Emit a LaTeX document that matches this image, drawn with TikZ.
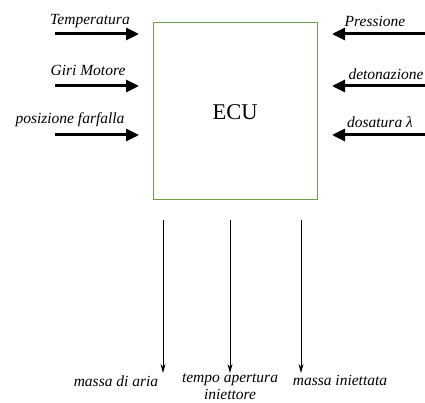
\documentclass[tikz,border=0pt]{standalone}
\usepackage{fontspec}
\setmainfont{Liberation Serif}
\usetikzlibrary{arrows.meta}
\begin{document}
\begin{tikzpicture}[x=1pt,y=-1pt,
  lbl/.style={font=\fontsize{15.5}{17}\selectfont\itshape, inner sep=0pt},
  thick arrow/.style={line width=3pt,-{Triangle[length=13pt,width=12pt]}},
  thin arrow/.style={line width=0.9pt,-{Stealth[length=9pt,width=5pt]}}]
\useasboundingbox (0,0) rectangle (425,403);
\node[draw={rgb,255:red,110;green,160;blue,80}, line width=1pt, minimum width=164pt, minimum height=177pt, inner sep=0pt] (ecu) at (235,111.5) {};
\node[font=\fontsize{22.5}{24}\selectfont, inner sep=0pt] (ecutext) at (235,112) {ECU};
% left inputs
\coordinate (l1s) at (55,34); \coordinate (l1e) at (139,34);
\coordinate (l2s) at (55,86); \coordinate (l2e) at (139,86);
\coordinate (l3s) at (55,135); \coordinate (l3e) at (139,135);
\draw[thick arrow] (l1s) -- (l1e);
\draw[thick arrow] (l2s) -- (l2e);
\draw[thick arrow] (l3s) -- (l3e);
\node[lbl] (t1) at (90,21) {Temperatura};
\node[lbl] (t2) at (88,70) {Giri Motore};
\node[lbl] (t3) at (70,120) {posizione farfalla};
% right inputs
\coordinate (r1s) at (426,34); \coordinate (r1e) at (332,34);
\coordinate (r2s) at (426,86); \coordinate (r2e) at (332,86);
\coordinate (r3s) at (426,135); \coordinate (r3e) at (332,135);
\draw[thick arrow] (r1s) -- (r1e);
\draw[thick arrow] (r2s) -- (r2e);
\draw[thick arrow] (r3s) -- (r3e);
\node[lbl] (p1) at (375,21) {Pressione};
\node[lbl] (p2) at (386,74) {detonazione};
\node[lbl] (p3) at (380,122) {dosatura λ};
% outputs
\coordinate (d1s) at (163,220); \coordinate (d1e) at (163,373);
\coordinate (d2s) at (230,220); \coordinate (d2e) at (230,373);
\coordinate (d3s) at (301,220); \coordinate (d3e) at (301,373);
\draw[thin arrow] (d1s) -- (d1e);
\draw[thin arrow] (d2s) -- (d2e);
\draw[thin arrow] (d3s) -- (d3e);
\node[lbl] (o1) at (116,381) {massa di aria};
\node[lbl] (o2) at (230,380) {tempo apertura};
\node[lbl] (o2b) at (230,394.5) {iniettore};
\node[lbl] (o3) at (340,380) {massa iniettata};
\end{tikzpicture}
\end{document}
